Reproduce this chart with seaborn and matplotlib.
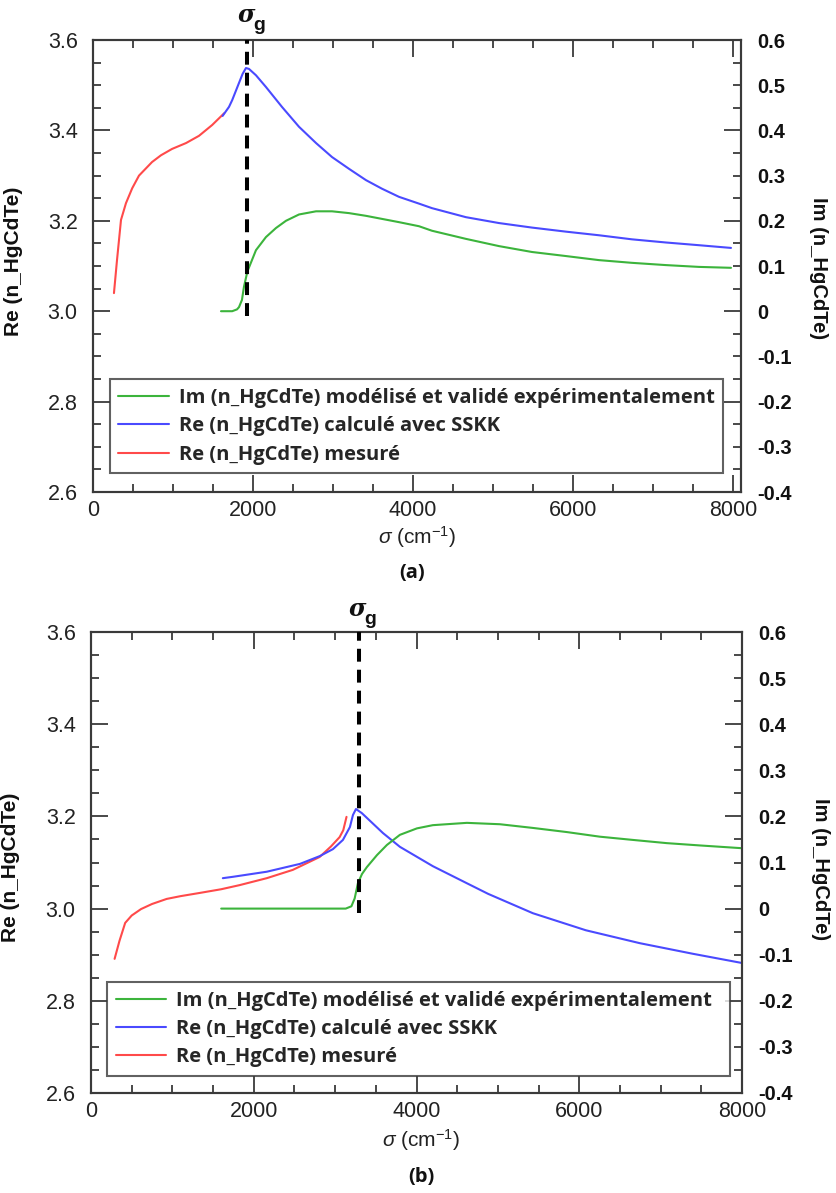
import numpy as np
import pandas as pd
import seaborn as sns
import matplotlib.pyplot as plt
from matplotlib.ticker import MultipleLocator, FixedLocator, FixedFormatter, FormatStrFormatter

# ---------------- data: panel (a) ----------------
a_meas_sigma = [262, 300, 350, 412, 490, 575, 738, 850, 988, 1163, 1325, 1490, 1640]
a_meas_re = [3.04, 3.113, 3.202, 3.239, 3.272, 3.300, 3.330, 3.345, 3.359, 3.372, 3.388, 3.412, 3.438]

a_sskk_sigma = [1620, 1700, 1740, 1825, 1870, 1912, 1950, 2037, 2162, 2362, 2575, 2788, 2988, 3200,
                3412, 3612, 3825, 4075, 4237, 4662, 5075, 5487, 5912, 6325, 6737, 7162, 7575, 7975]
a_sskk_re = [3.432, 3.452, 3.467, 3.505, 3.525, 3.538, 3.536, 3.522, 3.496, 3.452, 3.408, 3.372, 3.341,
             3.315, 3.290, 3.271, 3.253, 3.238, 3.228, 3.208, 3.195, 3.185, 3.176, 3.168, 3.159,
             3.152, 3.146, 3.140]

a_im_sigma = [1600, 1740, 1800, 1825, 1862, 1887, 1930, 1987, 2037, 2162, 2287, 2412, 2575, 2788,
              2988, 3200, 3412, 3825, 4075, 4237, 4662, 5075, 5487, 5912, 6325, 6737, 7162, 7575, 7975]
a_im = [0.0, 0.0, 0.004, 0.009, 0.025, 0.054, 0.088, 0.113, 0.135, 0.164, 0.184, 0.200, 0.214, 0.221,
        0.221, 0.217, 0.211, 0.197, 0.188, 0.178, 0.160, 0.144, 0.131, 0.122, 0.113, 0.107, 0.102,
        0.098, 0.096]
a_sigma_g = 1925

# ---------------- data: panel (b) ----------------
b_meas_sigma = [290, 350, 420, 500, 615, 750, 930, 1100, 1337, 1600, 1828, 2160, 2480, 2810, 2950,
                3055, 3100, 3140]
b_meas_re = [2.891, 2.930, 2.969, 2.985, 2.999, 3.010, 3.021, 3.027, 3.034, 3.042, 3.051, 3.066, 3.084,
             3.112, 3.135, 3.155, 3.170, 3.199]

b_sskk_sigma = [1620, 1745, 2160, 2568, 2813, 2973, 3096, 3182, 3219, 3256, 3329, 3587, 3796, 4201,
                4619, 4880, 5430, 6081, 6744, 7396, 8000]
b_sskk_re = [3.066, 3.069, 3.080, 3.097, 3.114, 3.129, 3.149, 3.177, 3.203, 3.216, 3.207, 3.164,
             3.134, 3.092, 3.055, 3.032, 2.990, 2.953, 2.925, 2.902, 2.882]

b_im_sigma = [1600, 3130, 3200, 3240, 3280, 3330, 3390, 3514, 3636, 3796, 4005, 4201, 4619, 5025,
              5430, 5848, 6253, 6658, 7076, 7482, 8000]
b_im = [0.0, 0.0, 0.005, 0.022, 0.055, 0.075, 0.090, 0.116, 0.138, 0.160, 0.174, 0.181, 0.186, 0.183,
        0.175, 0.166, 0.156, 0.149, 0.142, 0.137, 0.131]
b_sigma_g = 3290

labels = ["Im (n_HgCdTe) modélisé et validé expérimentalement",
          "Re (n_HgCdTe) calculé avec SSKK",
          "Re (n_HgCdTe) mesuré"]
im_ticks = [-0.4, -0.3, -0.2, -0.1, 0.0, 0.1, 0.2, 0.3, 0.4, 0.5, 0.6]
im_ticklabels = ["-0.4", "-0.3", "-0.2", "-0.1", "0", "0.1", "0.2", "0.3", "0.4", "0.5", "0.6"]

GREEN = "#3cb43c"
BLUE = "#4a4aff"
RED = "#ff4a4a"
SPINE = "#3a3a3a"

sns.set_theme(style="white")
plt.rcParams['font.family'] = ['Liberation Sans', 'DejaVu Sans']
plt.rcParams['mathtext.fontset'] = 'custom'
plt.rcParams['mathtext.rm'] = 'Liberation Sans'
plt.rcParams['mathtext.it'] = 'Liberation Sans:italic'
plt.rcParams['mathtext.bf'] = 'Liberation Sans:bold'

fig = plt.figure(figsize=(8.36, 11.93), dpi=100)
W, H = 836, 1193


def panel(rect, meas_s, meas_r, sskk_s, sskk_r, im_s, im_v, sg, xmax,
          leg_box, ylab_pos, rlab_pos, xlab_pos, caption_pos, caption, sg_px):
    ax = fig.add_axes(rect)
    sns.lineplot(x=meas_s, y=meas_r, ax=ax, color=RED, lw=1.5, sort=False, estimator=None,
                 label=labels[2], legend=False)
    sns.lineplot(x=sskk_s, y=sskk_r, ax=ax, color=BLUE, lw=1.5, sort=False, estimator=None,
                 label=labels[1], legend=False)
    ax2 = ax.twinx()
    sns.lineplot(x=im_s, y=im_v, ax=ax2, color=GREEN, lw=1.5, sort=False, estimator=None,
                 label=labels[0], legend=False)
    ax2.axvline(sg, ymin=0.39, ymax=1.0, color="black", lw=2.9, dashes=(3.2, 2.0), zorder=5)

    ax.set_xlim(0, xmax)
    ax.set_ylim(2.6, 3.6)
    ax2.set_ylim(-0.4, 0.6)

    for a in (ax, ax2):
        for s in a.spines.values():
            s.set_color(SPINE)
            s.set_linewidth(1.5)

    ax.xaxis.set_major_locator(MultipleLocator(2000))
    ax.xaxis.set_minor_locator(MultipleLocator(500))
    ax.yaxis.set_major_locator(MultipleLocator(0.2))
    ax.yaxis.set_minor_locator(MultipleLocator(0.05))
    ax.yaxis.set_major_formatter(FormatStrFormatter('%.1f'))
    ax.tick_params(which='both', direction='in', top=True, right=True, bottom=True, left=True,
                   color=SPINE, width=1.3)
    ax.tick_params(which='major', length=12, labelsize=15.5, labelcolor='#222222')
    ax.tick_params(axis='y', which='major', pad=11)
    ax.tick_params(axis='x', which='major', pad=6)
    ax.tick_params(which='minor', length=6)

    ax2.yaxis.set_major_locator(FixedLocator(im_ticks))
    ax2.yaxis.set_major_formatter(FixedFormatter(im_ticklabels))
    ax2.yaxis.set_minor_locator(FixedLocator([]))
    ax2.tick_params(axis='y', which='major', length=0, pad=12, labelsize=14.5, labelcolor='#111111')
    for t in ax2.get_yticklabels():
        t.set_fontweight('bold')

    ax.set_xlabel(r'$\mathit{\sigma}$ (cm$^{\mathregular{-1}}$)', fontsize=15, color='#222222')
    ax.xaxis.set_label_coords(*xlab_pos)
    ax.set_ylabel('Re (n_HgCdTe)', fontsize=15, fontweight='bold', color='#111111')
    ax.yaxis.set_label_coords(*ylab_pos)
    ax2.set_ylabel('Im (n_HgCdTe)', fontsize=14.5, fontweight='bold', color='#111111',
                   rotation=270, va='center', ha='center')
    ax2.yaxis.set_label_coords(*rlab_pos)

    h_im = ax2.get_lines()[0]
    h_re = ax.get_lines()[1]
    h_meas = ax.get_lines()[0]
    leg = ax2.legend([h_im, h_re, h_meas], labels, loc='lower left', bbox_to_anchor=leg_box,
                     mode='expand', borderaxespad=0, frameon=True, fancybox=False,
                     prop={'family': 'Open Sans', 'weight': 'bold', 'size': 14.5},
                     handlelength=2.5, handletextpad=0.5, labelspacing=0.42, borderpad=0.42)
    leg.get_frame().set_edgecolor(SPINE)
    leg.get_frame().set_linewidth(1.5)
    leg.set_zorder(10)

    # sigma_g label
    fig.text(sg_px[0] / W, 1 - sg_px[1] / H, 'σ', family='DejaVu Serif', style='italic',
             fontweight='bold', fontsize=17, ha='center', va='baseline', color='#111111')
    fig.text((sg_px[0] + 13) / W, 1 - (sg_px[1] + 8) / H, 'g', fontweight='bold', fontsize=14,
             ha='center', va='baseline', color='#111111')

    fig.text(caption_pos[0] / W, 1 - caption_pos[1] / H, caption, fontsize=14.5, fontweight='bold',
             ha='center', va='center', family=['Open Sans', 'DejaVu Sans'], color='#111111')
    return ax, ax2


panel([93 / W, 1 - 492 / H, 648 / W, 452 / H],
      a_meas_sigma, a_meas_re, a_sskk_sigma, a_sskk_re, a_im_sigma, a_im, a_sigma_g, 8100,
      (0.026, 0.042, 0.946, 0.217), (-0.108, 0.51), (1.12, 0.496), (0.5, -0.072),
      (412, 573), '(a)', (246, 22))

panel([91 / W, 1 - 1093 / H, 651 / W, 461 / H],
      b_meas_sigma, b_meas_re, b_sskk_sigma, b_sskk_re, b_im_sigma, b_im, b_sigma_g, 8000,
      (0.025, 0.037, 0.957, 0.217), (-0.109, 0.49), (1.12, 0.485), (0.507, -0.075),
      (421, 1177), '(b)', (357, 616))

fig.savefig('out.png', dpi=100)
